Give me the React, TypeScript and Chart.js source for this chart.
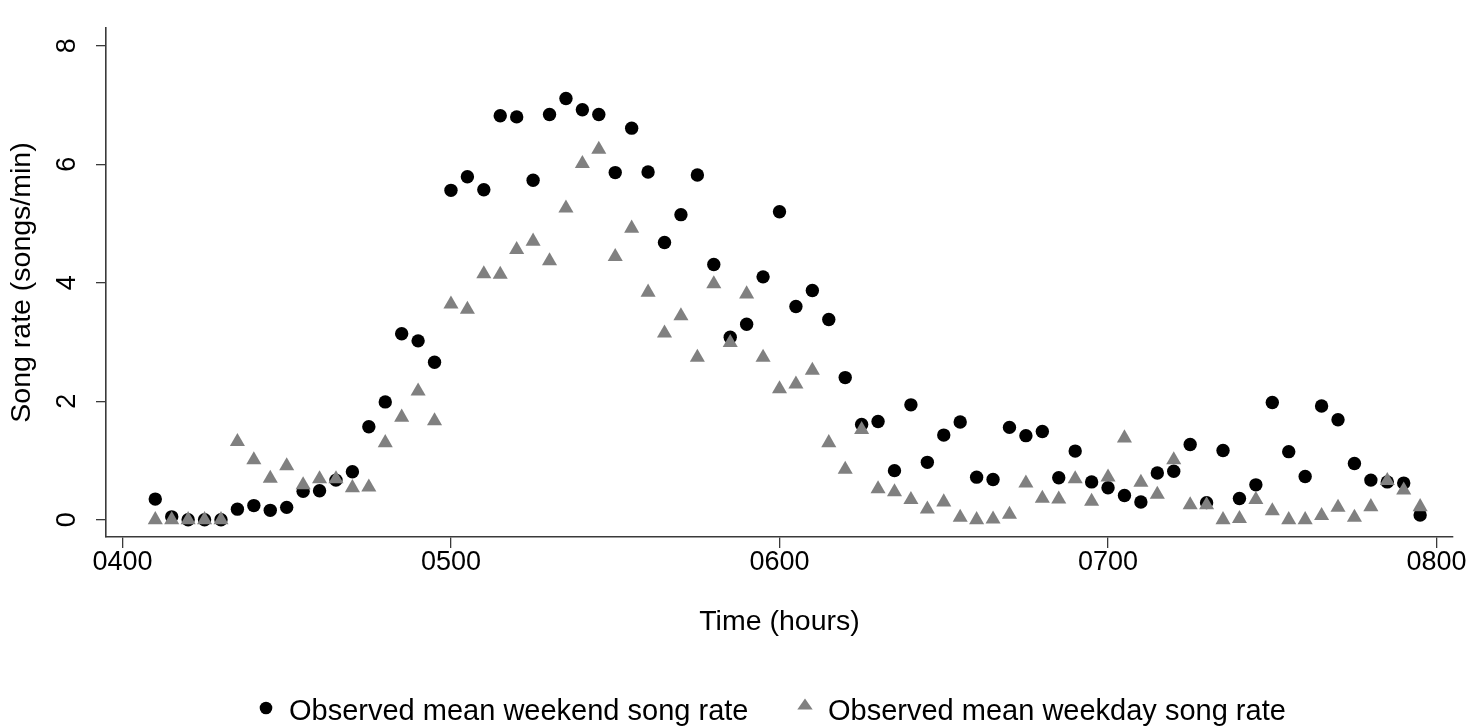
import { useEffect, useRef } from 'react';
import { Chart, registerables } from 'chart.js';

Chart.register(...registerables);

// Time of day, written as HHMM numbers (5-minute bins)
const TIMES = [
  410, 415, 420, 425, 430, 435, 440, 445, 450, 455, 460, 465, 470, 475, 480, 485, 490, 495,
  500, 505, 510, 515, 520, 525, 530, 535, 540, 545, 550, 555, 560, 565, 570, 575, 580, 585, 590, 595,
  600, 605, 610, 615, 620, 625, 630, 635, 640, 645, 650, 655, 660, 665, 670, 675, 680, 685, 690, 695,
  700, 705, 710, 715, 720, 725, 730, 735, 740, 745, 750, 755, 760, 765, 770, 775, 780, 785, 790, 795,
];

// Observed mean song rate (songs/min)
const WEEKEND_RATE = [
  0.35, 0.05, 0.0, 0.0, 0.0, 0.18, 0.24, 0.16, 0.21, 0.48,
  0.49, 0.67, 0.81, 1.57, 1.99, 3.14, 3.02, 2.66, 5.56, 5.79,
  5.57, 6.82, 6.8, 5.73, 6.84, 7.11, 6.92, 6.84, 5.86, 6.61,
  5.87, 4.68, 5.15, 5.82, 4.31, 3.08, 3.3, 4.1, 5.2, 3.6,
  3.87, 3.38, 2.4, 1.61, 1.66, 0.83, 1.94, 0.97, 1.43, 1.65,
  0.72, 0.68, 1.56, 1.42, 1.49, 0.71, 1.16, 0.64, 0.54, 0.41,
  0.3, 0.79, 0.82, 1.27, 0.29, 1.17, 0.36, 0.59, 1.98, 1.15,
  0.73, 1.92, 1.69, 0.95, 0.67, 0.64, 0.62, 0.08,
];

const WEEKDAY_RATE = [
  0.0, 0.0, 0.0, 0.0, 0.0, 1.32, 1.01, 0.7, 0.91, 0.59,
  0.69, 0.69, 0.54, 0.55, 1.3, 1.73, 2.17, 1.67, 3.64, 3.55,
  4.15, 4.14, 4.56, 4.7, 4.37, 5.26, 6.01, 6.25, 4.44, 4.92,
  3.84, 3.15, 3.44, 2.74, 3.98, 2.99, 3.81, 2.74, 2.21, 2.29,
  2.52, 1.3, 0.85, 1.52, 0.52, 0.47, 0.34, 0.18, 0.3, 0.04,
  0.0, 0.01, 0.09, 0.62, 0.36, 0.35, 0.69, 0.31, 0.72, 1.38,
  0.63, 0.43, 1.01, 0.25, 0.25, 0.0, 0.02, 0.34, 0.15, 0.0,
  0.0, 0.07, 0.21, 0.04, 0.22, 0.66, 0.5, 0.22,
];

const SERIES_LABELS = ['Observed mean weekend song rate', 'Observed mean weekday song rate'];
const X_TICKS = [400, 500, 600, 700, 800];
const X_TICK_LABELS = ['0400', '0500', '0600', '0700', '0800'];
const Y_TICKS = [0, 2, 4, 6, 8];
const Y_TICK_LABELS = ['0', '2', '4', '6', '8'];
const X_TITLE = 'Time (hours)';
const Y_TITLE = 'Song rate (songs/min)';

const FONT = "'Liberation Sans', Arial, Helvetica, sans-serif";
const AXIS_COLOR = '#3a3a3a';
const WEEKEND_COLOR = '#000000';
const WEEKDAY_COLOR = '#808080';

// Vertical (rotated) tick labels on the y axis
const yTickLabelsPlugin = {
  id: 'yTickLabels',
  afterDraw(chart: any) {
    const { ctx } = chart;
    const scale = chart.scales.y;
    ctx.save();
    ctx.fillStyle = '#000';
    ctx.font = `27px ${FONT}`;
    ctx.textAlign = 'center';
    ctx.textBaseline = 'alphabetic';
    Y_TICKS.forEach((v, i) => {
      ctx.save();
      ctx.translate(scale.right - 31, scale.getPixelForValue(v));
      ctx.rotate(-Math.PI / 2);
      ctx.fillText(Y_TICK_LABELS[i], 0, 0);
      ctx.restore();
    });
    ctx.restore();
  },
};

// Legend row under the x-axis title
const bottomLegendPlugin = {
  id: 'bottomLegend',
  afterDraw(chart: any) {
    const { ctx } = chart;
    const sets = chart.data.datasets;
    const baseline = 719.5;
    ctx.save();
    ctx.font = `29px ${FONT}`;
    ctx.textAlign = 'left';
    ctx.textBaseline = 'alphabetic';

    // weekend: filled circle
    ctx.fillStyle = sets[0].backgroundColor;
    ctx.beginPath();
    ctx.arc(266, 708, 6.3, 0, Math.PI * 2);
    ctx.fill();
    ctx.fillStyle = '#000';
    ctx.fillText(sets[0].label, 289, baseline);

    // weekday: filled triangle
    ctx.fillStyle = sets[1].backgroundColor;
    ctx.beginPath();
    ctx.moveTo(805, 698.5);
    ctx.lineTo(812.7, 709.5);
    ctx.lineTo(797.3, 709.5);
    ctx.closePath();
    ctx.fill();
    ctx.fillStyle = '#000';
    ctx.fillText(sets[1].label, 828, baseline);
    ctx.restore();
  },
};

export default function App() {
  const canvasRef = useRef<HTMLCanvasElement | null>(null);

  useEffect(() => {
    const canvas = canvasRef.current;
    if (!canvas) return;

    const chart = new Chart(canvas, {
      type: 'scatter',
      data: {
        datasets: [
          {
            label: SERIES_LABELS[0],
            data: TIMES.map((t, i) => ({ x: t, y: WEEKEND_RATE[i] })),
            pointStyle: 'circle',
            pointRadius: 6.7,
            backgroundColor: WEEKEND_COLOR,
            borderColor: WEEKEND_COLOR,
            borderWidth: 0,
            order: 2,
          },
          {
            label: SERIES_LABELS[1],
            data: TIMES.map((t, i) => ({ x: t, y: WEEKDAY_RATE[i] })),
            pointStyle: 'triangle',
            pointRadius: 8.7,
            backgroundColor: WEEKDAY_COLOR,
            borderColor: WEEKDAY_COLOR,
            borderWidth: 0,
            order: 1,
          },
        ],
      },
      options: {
        animation: false,
        responsive: false,
        events: [],
        layout: { padding: { top: 28, right: 27, left: 0, bottom: 0 } },
        plugins: {
          legend: { display: false },
          tooltip: { enabled: false },
        },
        scales: {
          x: {
            type: 'linear',
            min: 395,
            max: 805,
            afterBuildTicks: (s: any) => {
              s.ticks = X_TICKS.map((v) => ({ value: v }));
            },
            afterFit: (s: any) => {
              s.height = 190;
            },
            grid: {
              display: true,
              drawOnChartArea: false,
              drawTicks: true,
              tickLength: 11,
              color: AXIS_COLOR,
              lineWidth: 1.3,
            },
            border: { display: true, color: AXIS_COLOR, width: 1.6 },
            ticks: {
              autoSkip: false,
              maxRotation: 0,
              minRotation: 0,
              padding: 1,
              color: '#000',
              font: { family: FONT, size: 27, lineHeight: 1 },
              callback: (value: any) => {
                const idx = X_TICKS.indexOf(Number(value));
                return idx >= 0 ? X_TICK_LABELS[idx] : '';
              },
            },
            title: {
              display: true,
              text: X_TITLE,
              color: '#000',
              font: { family: FONT, size: 28.5 },
              padding: { top: 0, bottom: 87.9 },
            },
          },
          y: {
            type: 'linear',
            min: -0.29,
            max: 8.3,
            afterBuildTicks: (s: any) => {
              s.ticks = Y_TICKS.map((v) => ({ value: v }));
            },
            afterFit: (s: any) => {
              s.width = 106;
            },
            grid: {
              display: true,
              drawOnChartArea: false,
              drawTicks: true,
              tickLength: 10,
              color: AXIS_COLOR,
              lineWidth: 1.3,
            },
            border: { display: true, color: AXIS_COLOR, width: 1.6 },
            ticks: { display: false },
            title: {
              display: true,
              text: Y_TITLE,
              color: '#000',
              font: { family: FONT, size: 28.5 },
              padding: { top: 4.9, bottom: 0 },
            },
          },
        },
      },
      plugins: [yTickLabelsPlugin, bottomLegendPlugin],
    } as any);

    return () => chart.destroy();
  }, []);

  return (
    <div
      style={{
        position: 'fixed',
        left: 0,
        top: 0,
        width: 1480,
        height: 727,
        background: '#ffffff',
      }}
    >
      <canvas ref={canvasRef} width={1480} height={727} style={{ display: 'block' }} />
    </div>
  );
}
